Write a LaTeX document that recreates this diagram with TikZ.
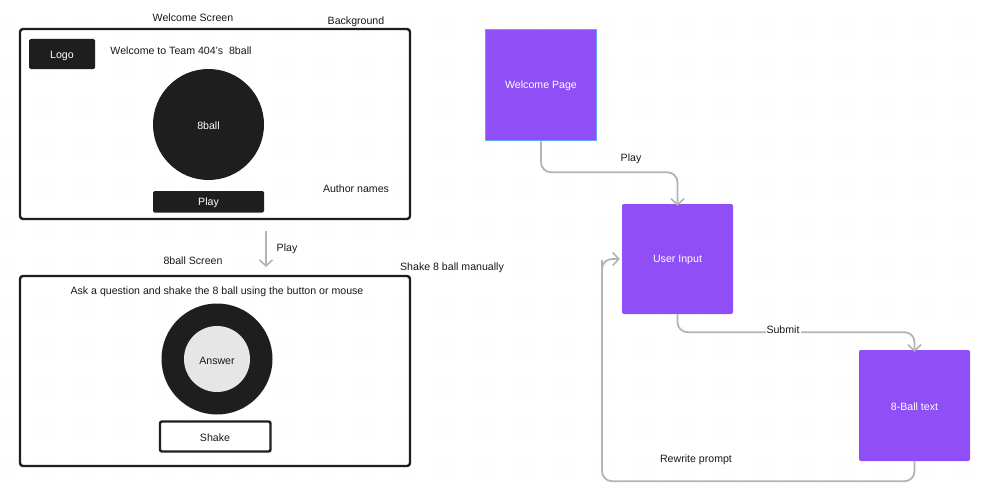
\documentclass[tikz,border=0pt]{standalone}
\usepackage{fontspec}
\setmainfont{Liberation Sans}
\usetikzlibrary{arrows.meta}
\definecolor{dark}{HTML}{1E1E1E}
\definecolor{purp}{RGB}{143,78,246}
\definecolor{selblue}{HTML}{5FA8F5}
\definecolor{conn}{HTML}{B3B3B3}
\definecolor{dotc}{HTML}{D6D6D6}
\definecolor{ansfill}{HTML}{E6E6E6}
\tikzset{
  lbl/.style={font=\fontsize{10.6}{12}\selectfont, text=black!90, inner sep=0pt, yshift=-1.2pt},
  wlbl/.style={font=\fontsize{10.6}{12}\selectfont, text=white, inner sep=0pt, yshift=-1.2pt},
  frame/.style={draw=dark, line width=2.4pt, rounded corners=3pt},
  darkbox/.style={fill=dark, rounded corners=1.5pt},
  flowbox/.style={fill=purp, rounded corners=2pt},
  tip/.style={-{Straight Barb[length=6pt,width=13pt,line width=1.6pt]}},
  conline/.style={draw=conn, line width=1.8pt, rounded corners=10pt, tip},
}
\begin{document}
\begin{tikzpicture}[x=1pt,y=-1pt]
\useasboundingbox (0,0) rectangle (981,487);
\fill[white] (0,0) rectangle (981,487);
% dot grid
\foreach \i in {0,...,97} {
  \foreach \j in {0,...,48} {
    \fill[dotc] (4+\i*10,8+\j*10) circle (0.5pt);
  }
}
% ---------- Welcome screen mockup ----------
\node[lbl] (wstitle) at (193,17) {Welcome Screen};
\node[lbl] (bg) at (356,21) {Background};
\draw[frame] (20,29) rectangle (410,219);
\fill[darkbox] (29,39) rectangle (95,69);
\node[wlbl] (logo) at (62,54.5) {Logo};
\node[lbl] (welc) at (181,50) {Welcome to Team 404’s\ \ 8ball};
\fill[dark] (208.5,124.5) circle (55.5);
\node[wlbl] (ball) at (208.5,124.5) {8ball};
\fill[darkbox] (153,191) rectangle (264,212.5);
\node[wlbl] (playbtn) at (208.5,202) {Play};
\node[lbl] (auth) at (356,188) {Author names};
% arrow between screens
\coordinate (a1) at (266,231);
\coordinate (a2) at (266,267);
\draw[draw=conn, line width=1.6pt, tip] (a1) -- (a2);
\node[lbl] (playlbl) at (287,248) {Play};
% ---------- 8ball screen mockup ----------
\node[lbl] (bstitle) at (193,260) {8ball Screen};
\node[lbl] (shakeman) at (452,267) {Shake 8 ball manually};
\draw[frame] (20,276) rectangle (410,466);
\node[lbl] (ask) at (217,291) {Ask a question and shake the 8 ball using the button or mouse};
\fill[dark] (217,359) circle (55.5);
\fill[ansfill] (217,359) circle (33);
\node[lbl] (ans) at (217,359.5) {Answer};
\draw[draw=dark, line width=2.4pt, fill=white, rounded corners=2pt] (160,421.5) rectangle (270.5,451.5);
\node[lbl] (shake) at (215,437) {Shake};
% ---------- flow chart ----------
\node[draw=selblue, line width=1.6pt, fill=purp, minimum width=111pt, minimum height=111pt, inner sep=0pt] (wp) at (541,85) {};
\node[wlbl] at (wp.center) {Welcome Page};
\node[flowbox, minimum width=111pt, minimum height=110pt, inner sep=0pt] (ui) at (677.5,259) {};
\node[wlbl] at (ui.center) {User Input};
\node[flowbox, minimum width=111pt, minimum height=111pt, inner sep=0pt] (eb) at (914.5,405.5) {};
\node[wlbl] at (eb.center) {8-Ball text};
% connectors
\draw[conline] (wp.south) -- ++(0,31) -| ([yshift=-2pt]ui.north);
\node[lbl] (lplay) at (631,158) {Play};
\draw[conline] (ui.south) -- ++(0,18) -| ([yshift=-2pt]eb.north);
\node[lbl, fill=white, inner xsep=1pt] (lsub) at (783,329) {Submit};
\draw[conline] (eb.south) -- ++(0,20) -| (602,270) |- ([xshift=-2pt]ui.west);
\node[lbl] (lrew) at (696,459) {Rewrite prompt};
\end{tikzpicture}
\end{document}
